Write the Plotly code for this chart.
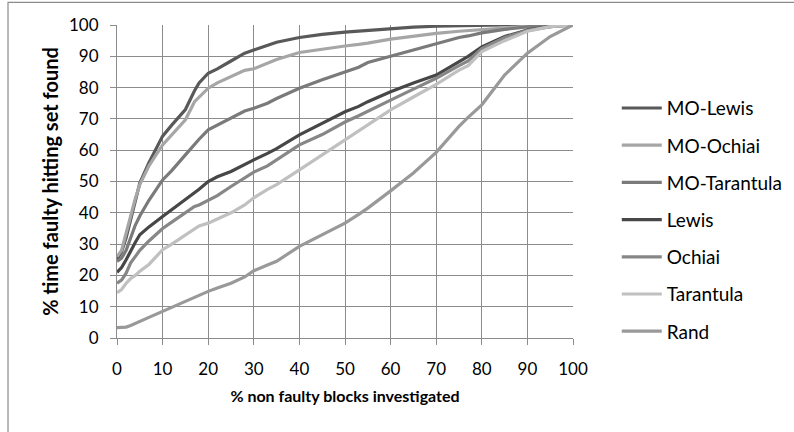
import plotly.graph_objects as go

# Share of non-faulty blocks investigated (%)
x_pct = [0, 1, 2, 3, 4, 5, 7, 10, 12, 15, 17, 18, 20, 22, 25, 28, 30, 33, 35,
         40, 45, 50, 53, 55, 60, 65, 70, 75, 77, 80, 85, 90, 95, 100]

# % of runs where the faulty hitting set was found
mo_lewis = [25, 27.5, 32, 38, 44, 49.5, 56, 64.5, 68, 73, 79, 81.5, 84.6, 86, 88.5, 91, 92, 93.5, 94.5,
            96, 97, 97.7, 98, 98.3, 98.9, 99.3, 99.6, 99.8, 99.9, 100, 100, 100, 100, 100]
mo_ochiai = [26, 28, 33.5, 39, 44.5, 49, 55, 61.7, 65, 69.7, 75.5, 77, 79.8, 81.5, 83.5, 85.5, 86, 87.8, 89,
             91.2, 92.3, 93.3, 93.8, 94.2, 95.5, 96.5, 97.3, 98, 98.2, 98.6, 99.2, 99.6, 99.9, 100]
mo_tarantula = [24.5, 25.5, 28, 32, 36, 39, 44, 50.5, 53.5, 58.5, 62, 63.5, 66.5, 68, 70.2, 72.5, 73.4, 75, 76.5,
                79.8, 82.5, 85, 86.5, 88, 90, 92, 94.2, 96, 96.5, 97.5, 98.6, 99.4, 99.9, 100]
lewis = [21, 22.5, 25, 28, 30.5, 33, 35.5, 38.8, 41, 44, 46.5, 47.5, 50, 51.5, 53.2, 55.5, 56.9, 59, 60.5,
         64.9, 68.5, 72.3, 74, 75.5, 78.7, 81.5, 84, 88.5, 90, 93, 96.3, 98.4, 99.5, 100]
ochiai = [17.5, 18.5, 20.7, 24, 26, 28, 31, 35, 37, 40, 42, 42.5, 44, 45.5, 48.4, 51, 53, 55, 57,
          61.7, 65, 69, 71, 72.5, 76, 79.5, 83, 87, 88.5, 92.5, 96, 98.2, 99.5, 100]
tarantula = [14.5, 15.5, 17.5, 19, 20, 21.3, 23.5, 28.2, 30, 33, 35, 35.8, 36.7, 38, 40, 42.5, 44.8, 47.5, 49,
             53.7, 58.5, 63.3, 66, 68, 72.9, 77, 81, 85.6, 87, 91.5, 95, 98, 99.5, 100]
rand = [3.3, 3.3, 3.5, 4, 4.6, 5.3, 6.6, 8.5, 9.8, 11.7, 13, 13.6, 14.9, 16, 17.5, 19.5, 21.5, 23.3, 24.5,
        29.3, 33, 36.7, 39.5, 41.5, 47, 52.7, 59.3, 67.6, 70.5, 74.5, 84, 91, 96.3, 100]

series = [
    ("MO-Lewis", mo_lewis, "#595959"),
    ("MO-Ochiai", mo_ochiai, "#a6a6a6"),
    ("MO-Tarantula", mo_tarantula, "#7a7a7a"),
    ("Lewis", lewis, "#474747"),
    ("Ochiai", ochiai, "#878787"),
    ("Tarantula", tarantula, "#c0c0c0"),
    ("Rand", rand, "#999999"),
]

FONT = "Lato"
GRID = "#8c8c8c"

fig = go.Figure()
for name, ys, color in series:
    fig.add_trace(go.Scatter(
        x=x_pct, y=ys, name=name, mode="lines", legendgroup=name,
        line=dict(color=color, width=3.2),
    ))

axis_common = dict(
    range=[0, 100], dtick=10, showgrid=True, gridcolor=GRID, gridwidth=1,
    showline=True, linecolor=GRID, linewidth=1, ticks="outside", ticklen=6,
    tickcolor=GRID, zeroline=False, tickfont=dict(family=FONT, size=17, color="black"),
)

fig.update_layout(
    width=794, height=432,
    margin=dict(l=117, r=221, t=25, b=94, autoexpand=False),
    paper_bgcolor="white", plot_bgcolor="white",
    font=dict(family=FONT, color="black"),
    xaxis=dict(**axis_common, ticklabelstandoff=10,
               title=dict(text="<b>% non faulty blocks investigated</b>",
                          font=dict(family=FONT, size=16), standoff=12)),
    yaxis=dict(**axis_common, ticklabelstandoff=8,
               title=dict(text="<b>% time faulty hitting set found</b>",
                          font=dict(family=FONT, size=20), standoff=5)),
    legend=dict(x=1.096, xanchor="left", y=0.795, yanchor="top",
                font=dict(family=FONT, size=19), tracegroupgap=9.5,
                itemwidth=40, maxheight=400, bgcolor="rgba(0,0,0,0)"),
    showlegend=True,
    shapes=[dict(type="rect", xref="paper", yref="paper",
                 x0=-0.239, x1=1.75, y0=-0.33, y1=1.072,
                 line=dict(color=GRID, width=1.2), layer="below")],
)

fig.write_html("out.html")
